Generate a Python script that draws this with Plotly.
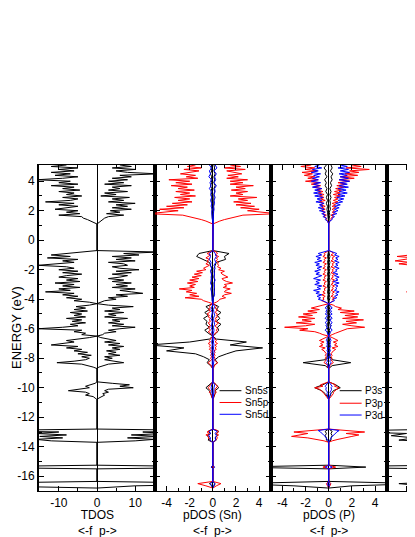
import plotly.graph_objects as go

# Energy grids (eV). Each line is one band block:
# CB, VB1, VB2, VB3, VB4, semicore 1, 2, 3
ENERGY_FINE = [
    5.1, 5.0, 4.9, 4.8, 4.7, 4.6, 4.5, 4.4, 4.3, 4.2, 4.1, 4.0, 3.9, 3.8, 3.7, 3.6, 3.5, 3.4, 3.3, 3.2,
    3.1, 3.0, 2.9, 2.8, 2.7, 2.6, 2.5, 2.4, 2.3, 2.2, 2.1, 2.0, 1.9, 1.8, 1.7, 1.6, 1.5, 1.4, 1.3, 1.2, 1.1,
    -0.7, -0.8, -0.9, -1.0, -1.1, -1.2, -1.3, -1.4, -1.5, -1.6, -1.7, -1.8, -1.9, -2.0, -2.1, -2.2, -2.3,
    -2.4, -2.5, -2.6, -2.7, -2.8, -2.9, -3.0, -3.1, -3.2, -3.3, -3.4, -3.5, -3.6, -3.7, -3.8, -3.9, -4.0,
    -4.1, -4.2, -4.3,
    -4.4, -4.5, -4.6, -4.7, -4.8, -4.9, -5.0, -5.1, -5.2, -5.3, -5.4, -5.5, -5.6, -5.7, -5.8, -5.9, -6.0,
    -6.1, -6.2, -6.3, -6.4, -6.5,
    -6.6, -6.7, -6.8, -6.9, -7.0, -7.1, -7.2, -7.3, -7.4, -7.5, -7.6, -7.7, -7.8, -7.9, -8.0, -8.1, -8.2,
    -8.3, -8.4, -8.5, -8.6, -8.7,
    -9.6, -9.7, -9.8, -9.9, -10.0, -10.1, -10.2, -10.3, -10.4, -10.5, -10.6, -10.7, -10.8,
    -12.8, -12.9, -13.0, -13.1, -13.2, -13.3, -13.4, -13.5, -13.6, -13.7,
    -15.25, -15.38, -15.5,
    -16.35, -16.5, -16.65, -16.8,
]
ENERGY = [
    5.1, 4.9, 4.7, 4.5, 4.3, 4.1, 3.9, 3.7, 3.5, 3.3, 3.1, 2.9, 2.7, 2.5, 2.3, 2.1, 1.9, 1.7, 1.5, 1.3, 1.1,
    -0.7, -0.9, -1.1, -1.3, -1.5, -1.7, -1.9, -2.1, -2.3, -2.5, -2.7, -2.9, -3.1, -3.3, -3.5, -3.7, -3.9, -4.1, -4.3,
    -4.5, -4.7, -4.9, -5.1, -5.3, -5.5, -5.7, -5.9, -6.1, -6.3, -6.5,
    -6.7, -6.9, -7.1, -7.3, -7.5, -7.7, -7.9, -8.1, -8.3, -8.5, -8.7,
    -9.6, -9.8, -10.0, -10.2, -10.4, -10.6, -10.8,
    -12.8, -12.95, -13.1, -13.25, -13.4, -13.55, -13.7,
    -15.25, -15.38, -15.5,
    -16.35, -16.5, -16.65, -16.8,
]

# total DOS on ENERGY_FINE, f side (drawn negative) and p side
TDOS_F = [
    -8, -12, -5, -10, -6, -12, -7, -11, -5, -9, -15.8, -7, -10, -5, -12, -6, -9, -4.5, -10, -6,
    -8, -4, -9, -5, -7, -13.5, -6, -10, -5, -9, -11, -5, -8, -4.5, -10, -4, -3.6, -2.5, -1.5, -0.6, 0,
    0, -4, -9, -12, -7, -13, -5, -9, -6, -11, -15.5, -8, -6, -10, -5, -9, -4, -8, -10, -5,
    -8, -4.5, -11, -6, -9, -4.5, -10, -7, -13.5, -6, -9, -5, -8, -4, -6, -2, 0,
    -2, -5.5, -3, -6, -2.5, -7, -4, -6, -3, -8, -4, -6.5, -3, -7, -5, -9, -15.5, -4, -6, -3, -4, 0,
    -2, -5, -8, -6, -10, -12, -5, -8, -4, -6, -2.5, -5, -1.5, -4, -2, -3, -6, -10.5, -4, -2, -1, 0,
    0, -0.5, -1.5, -3, -2, -5, -7.5, -3, -2, -3, -1, -0.5, 0,
    0, -30, -10, -16, -8, -15, -9, -16, -12, 0,
    0, -40, 0,
    0, -40, -30, 0,
]
TDOS_P = [
    6, 9, 4, 10, 5, 8, 16, 6, 9, 4, 8, 3, 7, 2, 9, 4, 6, 3, 8, 2,
    5, 1, 8.5, 4, 7, 3, 10, 5, 8, 4, 9, 3.5, 6, 2.5, 7, 3, 2, 1.5, 1, 0.5, 0,
    0, 16, 7, 11, 4, 9, 5, 10, 3, 7, 8, 4, 6, 11, 5, 9, 4, 8, 6, 3,
    7, 4, 9, 5, 8, 4, 10, 6, 9, 12, 5, 8, 3, 5, 2, 1, 0,
    3, 9.5, 4, 6, 2, 7, 3, 5, 2, 8, 4, 6, 3, 7, 4, 10, 6, 3, 5, 2, 1.5, 0,
    1, 3, 5, 2, 6, 3, 7, 4, 6, 2.5, 5, 3, 6, 2, 4, 2, 5, 7, 3, 1.5, 0.5, 0,
    0, 4, 8.5, 6, 9.5, 3, 2, 3, 1.5, 2, 1, 0.5, 0,
    0, 30, 12, 18, 9, 16, 8, 15, 10, 0,
    0, 40, 0,
    0, 40, 10, 0,
]

# Sn partial DOS: 5p on ENERGY_FINE, 5s and 5d on ENERGY
SN5P_F = [
    -1.5, -2.2, -1.0, -2.5, -1.2, -2.0, -2.8, -1.5, -2.3, -1.3, -3.8, -2.0, -3.2, -1.8, -3.6, -2.2, -3.0, -1.6, -3.2, -2.0,
    -2.8, -1.5, -3.3, -2.0, -3.0, -1.8, -3.5, -2.2, -4.0, -2.5, -4.6, -3.0, -4.2, -5.5, -2.6, -2.0, -1.5, -1.0, -0.6, -0.25, 0,
    0, -0.3, -0.5, -0.2, -0.4, -0.6, -0.3, -0.5, -0.4, -0.6, -0.3, -0.5, -0.8, -0.6, -1.4, -0.9, -1.6, -1.0, -1.8, -1.2,
    -2.0, -1.3, -2.2, -1.5, -2.0, -1.6, -2.9, -1.8, -2.3, -1.4, -2.0, -1.2, -2.4, -1.0, -0.8, -0.4, 0,
    -0.2, -0.3, -0.2, -0.4, -0.2, -0.3, -0.5, -0.3, -0.4, -0.2, -0.3, -0.2, -0.4, -0.3, -0.2, -0.4, -0.3, -0.2, -0.4, -0.2, -0.1, 0,
    -0.1, -0.2, -0.3, -0.2, -0.4, -0.2, -0.3, -0.2, -0.3, -0.1, -0.2, -0.1, -0.2, -0.1, -0.2, -0.1, -0.3, -0.4, -0.3, -0.1, -0.1, 0,
    0, -0.1, -0.2, -0.3, -0.4, -0.3, -0.2, -0.3, -0.2, -0.1, -0.1, -0.05, 0,
    0, -0.3, -0.5, -0.3, -0.6, -0.3, -0.4, -0.3, -0.2, 0,
    0, -0.1, 0,
    0, -1.3, -0.6, 0,
]
SN5P_P = [
    1.5, 2.4, 1.0, 2.8, 1.2, 2.0, 2.5, 1.3, 2.2, 1.2, 3.0, 1.5, 2.6, 1.5, 3.5, 2.0, 2.8, 1.6, 3.0, 2.0,
    2.6, 1.5, 3.8, 2.2, 3.0, 1.8, 3.3, 2.0, 3.6, 2.4, 4.0, 3.0, 4.9, 5.5, 2.6, 2.0, 1.5, 1.0, 0.6, 0.25, 0,
    0, 0.3, 0.4, 0.2, 0.5, 0.3, 0.4, 0.3, 0.5, 0.4, 0.5, 0.4, 0.7, 0.5, 1.0, 0.7, 0.8, 1.0, 1.3, 0.8,
    0.9, 1.2, 1.7, 1.0, 1.2, 0.9, 1.5, 1.1, 1.0, 1.6, 1.0, 0.8, 1.1, 0.6, 0.5, 0.3, 0,
    0.2, 0.3, 0.2, 0.4, 0.3, 0.2, 0.4, 0.3, 0.4, 0.2, 0.3, 0.2, 0.5, 0.3, 0.2, 0.3, 0.4, 0.3, 0.4, 0.2, 0.1, 0,
    0.1, 0.2, 0.3, 0.2, 0.4, 0.2, 0.3, 0.2, 0.3, 0.1, 0.2, 0.1, 0.2, 0.1, 0.2, 0.1, 0.3, 0.4, 0.3, 0.1, 0.1, 0,
    0, 0.2, 0.3, 0.4, 0.3, 0.2, 0.2, 0.3, 0.2, 0.1, 0.1, 0.05, 0,
    0, 0.4, 0.5, 0.3, 0.5, 0.3, 0.4, 0.3, 0.2, 0,
    0, 0.1, 0,
    0, 0.7, 0.3, 0,
]
SN5S_F = [
    -0.1, -0.15, -0.1, -0.2, -0.1, -0.15, -0.1, -0.2, -0.1, -0.15, -0.1, -0.1, -0.05, -0.1, -0.05, -0.1, -0.05, -0.1, -0.05, -0.02, 0,
    0, -1.2, -1.4, -0.8, -0.3, -0.2, -0.1, -0.15, -0.1, -0.1, -0.15, -0.1, -0.1, -0.15, -0.1, -0.1, -0.05, -0.05, 0,
    -0.6, -0.3, -0.7, -0.4, -0.8, -0.5, -0.6, -0.3, -0.7, -0.4, 0,
    -0.3, -2.0, -5.5, -2.5, -4.0, -1.5, -0.8, -0.3, -0.5, -0.2, 0,
    0, -0.3, -0.6, -0.3, -0.2, -0.1, 0,
    0, -0.4, -0.2, -0.5, -0.3, -0.4, 0,
    0, -0.1, 0,
    0, -0.3, -0.1, 0,
]
SN5S_P = [
    0.1, 0.15, 0.1, 0.2, 0.1, 0.15, 0.1, 0.2, 0.1, 0.15, 0.1, 0.1, 0.05, 0.1, 0.05, 0.1, 0.05, 0.1, 0.05, 0.02, 0,
    0, 1.4, 1.0, 1.1, 0.3, 0.2, 0.1, 0.15, 0.1, 0.1, 0.15, 0.1, 0.1, 0.15, 0.1, 0.1, 0.05, 0.05, 0,
    0.5, 0.3, 0.7, 0.4, 0.6, 0.3, 0.7, 0.4, 0.5, 0.3, 0,
    0.3, 2.9, 1.5, 4.3, 2.0, 1.2, 0.5, 0.2, 0.4, 0.1, 0,
    0, 0.3, 0.5, 0.2, 0.2, 0.1, 0,
    0, 0.5, 0.3, 0.4, 0.2, 0.3, 0,
    0, 0.1, 0,
    0, 0.2, 0.1, 0,
]
SN5D_F = [
    -0.3, -0.1, -0.3, -0.2, -0.35, -0.1, -0.25, -0.15, -0.3, -0.1, -0.2, -0.1, -0.2, -0.1, -0.15, -0.05, -0.1, -0.05, -0.05, -0.02, 0,
    0, -0.3, -0.2, -0.3, -0.15, -0.2, -0.1, -0.2, -0.1, -0.15, -0.1, -0.2, -0.1, -0.15, -0.1, -0.1, -0.1, -0.05, 0,
    -0.1, -0.15, -0.05, -0.1, -0.15, -0.05, -0.1, -0.15, -0.05, -0.1, 0,
    -0.05, -0.1, -0.05, -0.1, -0.05, -0.1, -0.05, -0.05, -0.1, -0.05, 0,
    0, -0.1, -0.15, -0.1, -0.05, -0.05, 0,
    0, -0.3, -0.2, -0.35, -0.2, -0.25, 0,
    0, -0.15, 0,
    0, -0.2, -0.1, 0,
]
SN5D_P = [
    0.2, 0.35, 0.1, 0.3, 0.15, 0.25, 0.1, 0.3, 0.15, 0.2, 0.1, 0.2, 0.1, 0.15, 0.05, 0.1, 0.05, 0.05, 0.02, 0.01, 0,
    0, 0.2, 0.3, 0.15, 0.25, 0.1, 0.2, 0.1, 0.15, 0.1, 0.2, 0.1, 0.15, 0.1, 0.1, 0.15, 0.05, 0.05, 0,
    0.15, 0.05, 0.1, 0.15, 0.05, 0.1, 0.15, 0.05, 0.1, 0.05, 0,
    0.1, 0.05, 0.1, 0.05, 0.1, 0.05, 0.05, 0.1, 0.05, 0.05, 0,
    0, 0.15, 0.1, 0.1, 0.05, 0.05, 0,
    0, 0.35, 0.2, 0.3, 0.2, 0.25, 0,
    0, 0.15, 0,
    0, 0.15, 0.1, 0,
]

# P partial DOS: 3p and 3d on ENERGY_FINE, 3s on ENERGY
P3P_F = [
    -1.5, -2.4, -1.2, -2.0, -1.0, -2.3, -1.4, -2.1, -1.2, -1.8, -0.9, -2.0, -0.8, -1.5, -0.7, -1.3, -0.6, -1.0, -0.5, -0.9,
    -0.4, -0.8, -0.4, -0.7, -0.3, -0.8, -0.4, -0.7, -0.3, -0.6, -0.3, -0.6, -0.3, -0.5, -0.2, -0.4, -0.2, -0.2, -0.1, -0.05, 0,
    0, -0.2, -0.4, -0.3, -0.5, -0.2, -0.4, -0.3, -0.5, -0.2, -0.4, -0.3, -0.5, -0.2, -0.4, -0.3, -0.5, -0.2, -0.4, -0.3,
    -0.5, -0.2, -0.4, -0.3, -0.5, -0.2, -0.4, -0.3, -0.5, -0.3, -0.6, -0.3, -0.5, -0.4, -0.6, -0.3, 0,
    -0.5, -0.9, -1.5, -0.8, -1.8, -1.0, -2.2, -1.4, -2.6, -1.2, -2.3, -1.5, -2.8, -1.2, -2.0, -3.8, -1.8, -2.5, -1.2, -0.8, -0.5, 0,
    -0.3, -0.5, -0.8, -0.4, -0.7, -0.5, -0.8, -0.3, -0.6, -0.4, -0.3, -0.2, -0.3, -0.2, -0.3, -0.2, -0.3, -0.4, -0.2, -0.1, -0.1, 0,
    0, -0.3, -0.7, -0.5, -1.2, -0.8, -0.6, -0.5, -0.4, -0.3, -0.2, -0.1, 0,
    0, -1.5, -3.0, -1.8, -2.6, -3.2, -1.8, -1.0, -0.4, 0,
    0, -0.5, 0,
    0, -0.2, -0.1, 0,
]
P3P_P = [
    2.0, 2.8, 1.5, 3.5, 1.8, 2.6, 1.4, 2.5, 1.0, 2.2, 0.9, 1.8, 0.8, 1.5, 0.7, 1.3, 0.6, 1.1, 0.5, 1.0,
    0.4, 1.0, 0.5, 0.8, 0.4, 0.8, 0.3, 0.6, 0.3, 0.6, 0.3, 0.5, 0.3, 0.5, 0.2, 0.4, 0.2, 0.2, 0.1, 0.05, 0,
    0, 0.3, 0.4, 0.2, 0.5, 0.3, 0.4, 0.2, 0.5, 0.3, 0.4, 0.2, 0.5, 0.3, 0.4, 0.2, 0.5, 0.3, 0.4, 0.2,
    0.5, 0.3, 0.4, 0.2, 0.5, 0.3, 0.4, 0.2, 0.5, 0.3, 0.4, 0.2, 0.5, 0.3, 0.4, 0.2, 0,
    0.4, 0.6, 1.1, 0.8, 2.2, 1.0, 2.6, 1.4, 2.5, 1.2, 3.0, 1.5, 2.4, 1.2, 2.0, 3.1, 1.6, 1.2, 0.8, 0.6, 0.3, 0,
    0.3, 0.5, 0.8, 0.4, 0.7, 0.5, 0.8, 0.3, 0.6, 0.4, 0.3, 0.2, 0.3, 0.2, 0.3, 0.2, 0.3, 0.4, 0.2, 0.1, 0.1, 0,
    0, 0.3, 0.6, 0.5, 0.9, 0.7, 0.5, 0.4, 0.4, 0.3, 0.2, 0.1, 0,
    0, 1.8, 3.1, 1.5, 2.6, 2.0, 1.2, 0.8, 0.3, 0,
    0, 0.6, 0,
    0, 0.2, 0.1, 0,
]
P3D_F = [
    -0.8, -1.2, -0.6, -1.4, -0.9, -1.5, -0.7, -1.3, -0.8, -1.4, -0.9, -1.5, -0.7, -1.3, -0.8, -1.4, -0.6, -1.2, -0.7, -1.3,
    -0.6, -1.2, -0.5, -1.0, -0.6, -1.1, -0.4, -0.8, -0.5, -0.9, -0.4, -0.8, -0.3, -0.6, -0.3, -0.5, -0.2, -0.3, -0.1, -0.05, 0,
    0, -0.6, -0.9, -0.6, -1.1, -0.7, -1.0, -0.6, -1.2, -0.8, -1.1, -0.6, -1.0, -0.7, -1.2, -0.8, -1.1, -0.6, -1.0, -1.3,
    -0.7, -1.1, -0.8, -1.2, -0.6, -1.0, -0.7, -1.3, -0.8, -1.1, -0.6, -1.0, -0.7, -0.9, -0.5, -0.3, 0,
    -0.1, -0.2, -0.3, -0.1, -0.25, -0.15, -0.3, -0.1, -0.2, -0.3, -0.1, -0.2, -0.3, -0.15, -0.25, -0.1, -0.2, -0.3, -0.15, -0.1, -0.05, 0,
    -0.1, -0.15, -0.2, -0.1, -0.15, -0.1, -0.2, -0.05, -0.1, -0.15, -0.05, -0.1, -0.15, -0.05, -0.1, -0.15, -0.1, -0.2, -0.1, -0.05, -0.05, 0,
    0, -0.1, -0.2, -0.3, -0.2, -0.25, -0.2, -0.1, -0.15, -0.1, -0.05, -0.05, 0,
    0, -0.9, -0.7, -0.6, -0.45, -0.3, -0.2, -0.1, -0.05, 0,
    0, -0.3, 0,
    0, -0.1, -0.05, 0,
]
P3D_P = [
    1.0, 1.6, 0.8, 1.7, 1.0, 1.8, 0.9, 1.6, 1.0, 1.7, 0.9, 1.8, 1.0, 1.6, 0.9, 1.7, 0.8, 1.5, 0.9, 1.6,
    0.8, 1.4, 0.7, 1.3, 0.8, 1.2, 0.6, 1.0, 0.5, 0.9, 0.5, 0.8, 0.4, 0.7, 0.3, 0.5, 0.3, 0.3, 0.1, 0.05, 0,
    0, 0.4, 0.7, 0.5, 0.9, 0.6, 0.8, 0.5, 0.9, 0.6, 0.8, 0.5, 0.9, 0.6, 0.7, 0.4, 0.8, 0.5, 0.9, 0.6,
    0.8, 0.4, 0.9, 0.5, 0.8, 0.6, 0.7, 0.5, 0.9, 0.6, 0.8, 0.5, 0.7, 0.4, 0.5, 0.2, 0,
    0.1, 0.2, 0.3, 0.1, 0.25, 0.15, 0.3, 0.1, 0.2, 0.3, 0.1, 0.2, 0.3, 0.15, 0.25, 0.1, 0.2, 0.3, 0.15, 0.1, 0.05, 0,
    0.1, 0.15, 0.2, 0.1, 0.15, 0.1, 0.2, 0.05, 0.1, 0.15, 0.05, 0.1, 0.15, 0.05, 0.1, 0.15, 0.1, 0.2, 0.1, 0.05, 0.05, 0,
    0, 0.1, 0.2, 0.3, 0.2, 0.25, 0.2, 0.1, 0.15, 0.1, 0.05, 0.05, 0,
    0, 0.9, 0.7, 0.6, 0.45, 0.3, 0.2, 0.1, 0.05, 0,
    0, 0.3, 0,
    0, 0.1, 0.05, 0,
]
P3S_F = [
    -0.2, -0.4, -0.2, -0.3, -0.15, -0.35, -0.2, -0.3, -0.15, -0.25, -0.1, -0.2, -0.1, -0.2, -0.1, -0.15, -0.1, -0.1, -0.05, -0.02, 0,
    0, -0.05, -0.1, -0.05, -0.1, -0.05, -0.1, -0.05, -0.1, -0.05, -0.1, -0.05, -0.1, -0.05, -0.1, -0.05, -0.1, -0.05, 0,
    -0.1, -0.05, -0.1, -0.05, -0.1, -0.05, -0.1, -0.15, -0.05, -0.1, 0,
    -0.05, -0.1, -0.05, -0.1, -0.05, -0.1, -0.1, -0.3, -2.2, -0.3, 0,
    0, -0.5, -1.2, -0.6, -0.3, -0.1, 0,
    0, -0.3, -0.2, -0.3, -0.2, -0.2, 0,
    0, -8, 0,
    0, -8, -3, 0,
]
P3S_P = [
    0.2, 0.3, 0.15, 0.35, 0.2, 0.3, 0.15, 0.25, 0.1, 0.2, 0.1, 0.2, 0.1, 0.15, 0.1, 0.15, 0.05, 0.1, 0.05, 0.02, 0,
    0, 0.05, 0.1, 0.05, 0.1, 0.05, 0.1, 0.05, 0.1, 0.05, 0.1, 0.05, 0.1, 0.05, 0.1, 0.05, 0.1, 0.05, 0,
    0.1, 0.05, 0.1, 0.05, 0.1, 0.05, 0.1, 0.15, 0.05, 0.1, 0,
    0.05, 0.1, 0.05, 0.1, 0.05, 0.1, 0.1, 0.3, 1.9, 0.3, 0,
    0, 0.6, 1.0, 0.4, 0.2, 0.1, 0,
    0, 0.3, 0.2, 0.3, 0.2, 0.2, 0,
    0, 3.2, 0,
    0, 8, 2, 0,
]

# fourth panel, only its left edge is in view
P4_RED_E = [-0.7, -0.8, -0.9, -1.0, -1.1, -1.2, -1.3, -1.4, -1.5, -1.6, -1.7, -1.8, -1.9, -2.0, -2.1, -2.2,
            -2.3, -2.4, -2.5, -2.6, -2.7, -2.8, -2.9, -3.0, -3.1, -3.2, -3.3, -3.4, -3.5, -3.6, -3.7, -3.8,
            -3.9, -4.0, -4.1, -4.2, -4.3]
P4_RED = [0, -2, -5, -9, -12.5, -8, -10, -13, -9, -12, -8.5, -5, -4, -3, -5, -3,
          -9.5, -5, -4, -3, -4, -8.7, -4, -3, -5, -3, -4, -6, -10, -5, -3, -4,
          -2, -3, -2, -1, 0]
P4_BLACK_E = [-12.8, -12.95, -13.1, -13.25, -13.4, -13.55, -13.7, -15.25, -15.38, -15.5, -16.35, -16.5, -16.65, -16.8]
P4_BLACK = [0, -30, -10, -14, -8, -12, 0, 0, -40, 0, 0, -12, -5, 0]

Y_TICKS = [-16, -14, -12, -10, -8, -6, -4, -2, 0, 2, 4]
Y_MINOR = [-15, -13, -11, -9, -7, -5, -3, -1, 1, 3]
TDOS_TICKS = [-10, 0, 10]
PDOS_TICKS = [-4, -2, 0, 2, 4]
SN_LEGEND = ["Sn5s", "Sn5p", "Sn5d"]
P_LEGEND = ["P3s", "P3p", "P3d"]
COLORS = ["black", "#ff0000", "#0000ff"]

FONT = "Arial, 'Liberation Sans', sans-serif"


def labels(vals):
    return [str(v) for v in vals]


def both_sides(f_vals, p_vals, energy):
    # f side and p side drawn as one line with a break in between
    assert len(f_vals) == len(energy) and len(p_vals) == len(energy)
    return list(f_vals) + [None] + list(p_vals), list(energy) + [None] + list(energy)


fig = go.Figure()

x, y = both_sides(TDOS_F, TDOS_P, ENERGY_FINE)
fig.add_scatter(x=x, y=y, mode="lines", line=dict(color="black", width=1),
                xaxis="x", yaxis="y", showlegend=False)

sn = [(SN5S_F, SN5S_P, ENERGY), (SN5P_F, SN5P_P, ENERGY_FINE), (SN5D_F, SN5D_P, ENERGY)]
for (f, p, e), color in zip(sn, COLORS):
    x, y = both_sides(f, p, e)
    fig.add_scatter(x=x, y=y, mode="lines", line=dict(color=color, width=1),
                    xaxis="x2", yaxis="y2", showlegend=False)

ph = [(P3S_F, P3S_P, ENERGY), (P3P_F, P3P_P, ENERGY_FINE), (P3D_F, P3D_P, ENERGY_FINE)]
for (f, p, e), color in zip(ph, COLORS):
    x, y = both_sides(f, p, e)
    fig.add_scatter(x=x, y=y, mode="lines", line=dict(color=color, width=1),
                    xaxis="x3", yaxis="y3", showlegend=False)

fig.add_scatter(x=P4_BLACK, y=P4_BLACK_E, mode="lines", line=dict(color="black", width=1),
                xaxis="x4", yaxis="y4", showlegend=False)
fig.add_scatter(x=P4_RED, y=P4_RED_E, mode="lines", line=dict(color="#ff0000", width=1),
                xaxis="x4", yaxis="y4", showlegend=False)

TICKFONT = dict(family=FONT, size=12, color="black")
x_style = dict(showline=True, linecolor="black", linewidth=1.2, mirror="ticks",
               ticks="inside", ticklen=5, tickcolor="black", showgrid=False,
               zeroline=True, zerolinecolor="black", zerolinewidth=1.4,
               tickfont=TICKFONT, tickmode="array")
y_style = dict(showline=True, linecolor="black", linewidth=2, mirror="ticks",
               ticks="inside", ticklen=5, tickcolor="black", showgrid=False,
               zeroline=False, range=[-17, 5.1], tickmode="array",
               tickvals=Y_TICKS, ticktext=labels(Y_TICKS), tickfont=TICKFONT,
               minor=dict(tickmode="array", tickvals=Y_MINOR, ticks="inside",
                          ticklen=3, tickcolor="black"))
pdos_minor = dict(tickmode="array", tickvals=[-3, -1, 1, 3], ticks="inside", ticklen=3, tickcolor="black")

# page body has an 8px margin, so the figure is 8px smaller than the window
edges = [0, 0.3085, 0.6162, 0.9247, 1.0]
fig.update_layout(
    width=407, height=529,
    margin=dict(l=31, r=0, t=157, b=46),
    paper_bgcolor="white", plot_bgcolor="white",
    font=dict(family=FONT, size=12, color="black"),
    showlegend=False,
    xaxis=dict(domain=edges[0:2], anchor="y", range=[-15.2, 15.2],
               tickvals=TDOS_TICKS, ticktext=labels(TDOS_TICKS),
               minor=dict(tickmode="array", tickvals=[-5, 5], ticks="inside", ticklen=3, tickcolor="black"),
               **x_style),
    xaxis2=dict(domain=edges[1:3], anchor="y2", range=[-5, 5],
                tickvals=PDOS_TICKS, ticktext=labels(PDOS_TICKS), minor=pdos_minor, **x_style),
    xaxis3=dict(domain=edges[2:4], anchor="y3", range=[-5, 5],
                tickvals=PDOS_TICKS, ticktext=labels(PDOS_TICKS), minor=pdos_minor, **x_style),
    xaxis4=dict(domain=edges[3:5], anchor="y4", range=[-15.2, -7.79],
                tickvals=[-10], ticktext=["-10"], **x_style),
    yaxis=dict(anchor="x", **y_style),
    yaxis2=dict(anchor="x2", matches="y", showticklabels=False, **y_style),
    yaxis3=dict(anchor="x3", matches="y", showticklabels=False, **y_style),
    yaxis4=dict(anchor="x4", matches="y", showticklabels=False,
                **{**y_style, "mirror": False}),
)

# axis titles under each panel
for ref, name in [("x", "TDOS"), ("x2", "pDOS (Sn)"), ("x3", "pDOS (P)")]:
    fig.add_annotation(x=0, xref=ref, y=0, yref="paper", yanchor="top", yshift=-15,
                       text=name + "<br>&lt;-f&nbsp;&nbsp;p-&gt;", showarrow=False,
                       font=dict(family=FONT, size=12, color="black"))

fig.add_annotation(x=0, xref="paper", xanchor="center", xshift=-23, y=0.5, yref="paper",
                   yanchor="middle", textangle=-90, text="ENERGY (eV)", showarrow=False,
                   borderpad=0, font=dict(family=FONT, size=13, color="black"))

# hand-drawn legends inside the two pDOS panels
for (xr, yr, names, x0, x1, ys) in [
    ("x2", "y2", SN_LEGEND, 0.58, 2.47, [-10.2, -11.0, -11.8]),
    ("x3", "y3", P_LEGEND, 0.95, 2.84, [-10.2, -11.05, -11.85]),
]:
    for name, color, ey in zip(names, COLORS, ys):
        fig.add_shape(type="line", xref=xr, yref=yr, x0=x0, x1=x1, y0=ey, y1=ey,
                      line=dict(color=color, width=1))
        fig.add_annotation(x=x1 + 0.2, xref=xr, y=ey, yref=yr, xanchor="left",
                           text=name, showarrow=False, borderpad=0,
                           font=dict(family=FONT, size=10, color="black"))

fig.write_html("out.html", config={"displayModeBar": False})
